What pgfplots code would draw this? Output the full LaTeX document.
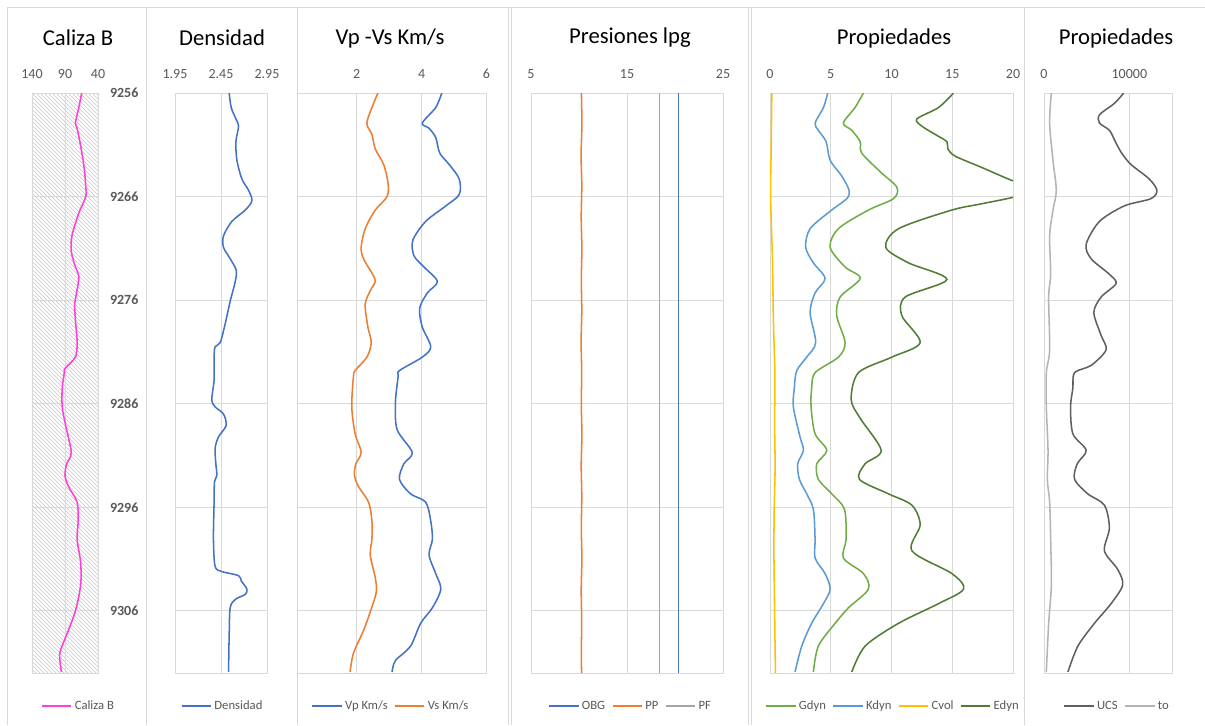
\documentclass[border=0pt]{standalone}
\usepackage{fontspec}
\setmainfont{Carlito}
\usepackage{pgfplots}
\pgfplotsset{compat=1.18}
\usepackage{pgfplotstable}
\usetikzlibrary{patterns}
\definecolor{gridc}{HTML}{D9D9D9}
\definecolor{tickc}{HTML}{595959}
\definecolor{cal}{HTML}{FF3FD8}
\definecolor{cblue}{HTML}{4472C4}
\definecolor{corange}{HTML}{ED7D31}
\definecolor{cgray}{HTML}{A5A5A5}
\definecolor{cgreen}{HTML}{70AD47}
\definecolor{clblue}{HTML}{5B9BD5}
\definecolor{cyellow}{HTML}{FFC000}
\definecolor{cdgreen}{HTML}{507C35}
\definecolor{cucs}{HTML}{606060}
\definecolor{cto}{HTML}{B4B4B4}

\pgfplotstableread[row sep=\\]{
d v\\
9256.0 64.7\\ 9257.4 69\\ 9258.9 74.2\\ 9259.4 71.6\\ 9261.1 66.3\\ 9263.2 61\\ 9265.1 58.4\\ 9266.0 58.4\\
9267.6 69\\ 9269.8 79.5\\ 9271.3 80.5\\ 9272.8 74.2\\ 9273.7 69\\ 9275.0 71.6\\ 9276.4 75.3\\ 9277.9 74.2\\
9280.1 71.6\\ 9281.5 74.2\\ 9282.6 90\\ 9283.0 91\\ 9284.5 94.2\\ 9286.3 94.2\\ 9288.1 89\\ 9290.7 80.5\\
9291.8 87.4\\ 9292.9 90\\ 9294.0 84.7\\ 9295.5 71.6\\ 9297.3 70\\ 9299.1 71.6\\ 9301.3 66.3\\ 9303.5 66.3\\
9306.0 74.2\\ 9308.3 87.4\\ 9310.1 97.9\\ 9311.9 95.3\\
}\tCal

\pgfplotstableread[row sep=\\]{
d v\\
9256.0 2.539\\ 9257.4 2.561\\ 9258.5 2.612\\ 9259.2 2.641\\ 9260.7 2.612\\ 9262.5 2.623\\ 9264.3 2.677\\
9265.4 2.75\\ 9266.4 2.786\\ 9267.3 2.714\\ 9268.4 2.568\\ 9269.8 2.477\\ 9270.9 2.477\\ 9272.0 2.55\\
9273.1 2.615\\ 9274.2 2.605\\ 9276.1 2.55\\ 9278.3 2.495\\ 9280.1 2.441\\ 9280.5 2.386\\ 9281.5 2.375\\
9283.7 2.375\\ 9285.6 2.35\\ 9286.3 2.386\\ 9287.0 2.477\\ 9288.1 2.506\\ 9289.2 2.423\\ 9290.3 2.386\\
9291.8 2.394\\ 9292.9 2.405\\ 9293.6 2.379\\ 9295.5 2.375\\ 9299.1 2.368\\ 9301.7 2.386\\ 9302.2 2.459\\
9302.6 2.641\\ 9303.1 2.67\\ 9303.9 2.732\\ 9304.4 2.714\\ 9304.9 2.605\\ 9305.7 2.55\\ 9308.3 2.539\\
9311.9 2.532\\
}\tDen

\pgfplotstableread[row sep=\\]{
d v\\
9256.0 4.622\\ 9257.4 4.435\\ 9258.9 4.021\\ 9259.4 4.228\\ 9260.3 4.435\\ 9261.8 4.56\\ 9262.9 4.85\\
9264.3 5.16\\ 9265.8 5.16\\ 9266.9 4.746\\ 9268.4 4.124\\ 9270.2 3.731\\ 9271.7 3.762\\ 9272.8 4.073\\
9274.2 4.487\\ 9275.3 4.176\\ 9276.8 3.938\\ 9278.6 4.021\\ 9280.5 4.28\\ 9281.5 4.021\\ 9282.8 3.316\\
9283.4 3.275\\ 9285.9 3.192\\ 9288.5 3.244\\ 9290.7 3.71\\ 9291.8 3.451\\ 9293.3 3.316\\ 9294.7 3.658\\
9295.5 4.124\\ 9297.3 4.28\\ 9299.1 4.332\\ 9300.6 4.228\\ 9302.4 4.435\\ 9303.9 4.591\\ 9305.7 4.332\\
9307.2 3.969\\ 9309.4 3.658\\ 9310.8 3.192\\ 9311.9 3.088\\
}\tVp

\pgfplotstableread[row sep=\\]{
d v\\
9256.0 2.653\\ 9257.0 2.518\\ 9258.9 2.311\\ 9260.0 2.466\\ 9261.4 2.57\\ 9262.9 2.829\\ 9264.7 2.964\\
9266.0 2.933\\ 9267.3 2.57\\ 9269.1 2.259\\ 9270.9 2.135\\ 9272.0 2.207\\ 9273.5 2.487\\ 9274.2 2.57\\
9275.1 2.415\\ 9276.4 2.259\\ 9278.6 2.342\\ 9280.1 2.446\\ 9281.5 2.311\\ 9282.8 1.948\\ 9283.4 1.896\\
9286.3 1.845\\ 9288.9 1.948\\ 9290.7 2.135\\ 9291.8 1.969\\ 9292.9 1.927\\ 9294.0 2.052\\ 9295.5 2.363\\
9297.3 2.466\\ 9299.1 2.466\\ 9300.6 2.415\\ 9302.8 2.57\\ 9304.2 2.6\\ 9306.1 2.415\\ 9307.9 2.207\\
9310.1 1.896\\ 9311.9 1.793\\
}\tVs

\pgfplotstableread[row sep=\\]{
d obg pp pf\\
9256 20.36 10.25 18.4\\ 9259 20.36 10.30 18.4\\ 9262 20.36 10.22 18.4\\ 9265 20.36 10.29 18.4\\
9268 20.36 10.23 18.4\\ 9271 20.36 10.30 18.4\\ 9274 20.36 10.24 18.4\\ 9277 20.36 10.29 18.4\\
9280 20.36 10.22 18.4\\ 9283 20.36 10.28 18.4\\ 9286 20.36 10.24 18.4\\ 9289 20.36 10.30 18.4\\
9292 20.36 10.23 18.4\\ 9295 20.36 10.29 18.4\\ 9298 20.36 10.24 18.4\\ 9301 20.36 10.30 18.4\\
9304 20.36 10.23 18.4\\ 9307 20.36 10.28 18.4\\ 9310 20.36 10.24 18.4\\ 9312 20.36 10.27 18.4\\
}\tPres

\pgfplotstableread[row sep=\\]{
d v\\
9256.0 7.69\\ 9257.4 7.0\\ 9258.9 6.04\\ 9259.6 6.73\\ 9260.7 7.42\\ 9261.8 7.55\\ 9263.6 9.07\\
9265.1 10.44\\ 9266.2 10.16\\ 9267.3 8.1\\ 9269.1 5.63\\ 9270.9 4.95\\ 9272.8 6.18\\ 9273.9 7.42\\
9275.7 5.77\\ 9277.5 5.49\\ 9280.1 6.18\\ 9281.5 5.63\\ 9283.0 3.71\\ 9284.5 3.43\\ 9286.3 3.38\\
9288.9 3.71\\ 9290.5 4.67\\ 9291.8 3.85\\ 9293.3 3.98\\ 9294.7 5.08\\ 9296.2 6.13\\ 9299.1 6.26\\
9300.9 6.04\\ 9302.4 7.69\\ 9303.9 8.1\\ 9305.7 6.46\\ 9307.2 5.36\\ 9309.4 3.98\\ 9311.9 3.57\\
}\tG

\pgfplotstableread[row sep=\\]{
d v\\
9256.0 4.75\\ 9257.4 4.4\\ 9258.9 3.71\\ 9259.6 3.98\\ 9260.7 4.62\\ 9262.5 4.95\\ 9264.0 5.9\\
9265.4 6.51\\ 9266.2 6.32\\ 9267.3 5.08\\ 9269.1 3.3\\ 9270.9 2.94\\ 9272.4 3.57\\ 9273.9 4.53\\
9275.3 3.71\\ 9277.2 3.3\\ 9280.1 3.76\\ 9281.5 3.02\\ 9282.8 2.2\\ 9284.5 2.0\\ 9286.3 1.92\\
9289.2 2.47\\ 9290.5 2.75\\ 9291.8 2.28\\ 9293.3 2.42\\ 9294.7 3.02\\ 9296.2 3.57\\ 9299.1 3.71\\
9300.9 3.71\\ 9302.4 4.53\\ 9303.9 4.95\\ 9305.3 4.4\\ 9307.2 3.43\\ 9309.4 2.61\\ 9311.9 2.06\\
}\tK

\pgfplotstableread[row sep=\\]{
d v\\
9256 0.15\\ 9261 0.10\\ 9266 0.05\\ 9272 0.20\\ 9278 0.28\\ 9283 0.40\\ 9288 0.38\\ 9292 0.42\\
9296 0.35\\ 9300 0.32\\ 9304 0.36\\ 9308 0.40\\ 9312 0.45\\
}\tC

\pgfplotstableread[row sep=\\]{
d v\\
9256.0 15.1\\ 9257.4 13.87\\ 9258.5 12.09\\ 9259.2 12.5\\ 9260.0 13.6\\ 9260.7 14.56\\ 9261.4 14.64\\
9262.1 15.25\\ 9263.2 17.45\\ 9264.3 19.6\\ 9265.2 21.5\\ 9266.0 20.2\\ 9266.7 17.4\\ 9267.3 14.97\\
9269.1 10.58\\ 9270.9 9.53\\ 9272.4 11.4\\ 9274.0 14.56\\ 9275.7 11.13\\ 9277.5 10.85\\ 9280.1 12.36\\
9281.5 10.03\\ 9283.0 7.28\\ 9285.6 6.68\\ 9287.4 7.42\\ 9290.5 9.15\\ 9291.8 7.83\\ 9293.3 7.36\\
9294.7 9.75\\ 9295.8 11.68\\ 9297.7 12.36\\ 9300.2 11.68\\ 9302.4 14.97\\ 9303.9 15.93\\ 9305.3 13.87\\
9307.2 10.58\\ 9309.4 7.83\\ 9311.9 6.73\\
}\tE

\pgfplotstableread[row sep=\\]{
d v\\
9256.0 9340\\ 9257.0 8250\\ 9258.1 6500\\ 9258.9 6500\\ 9259.6 7660\\ 9260.7 8360\\ 9261.8 9100\\
9262.9 10190\\ 9264.3 12330\\ 9265.4 13230\\ 9266.2 12530\\ 9266.9 9410\\ 9268.4 6500\\ 9270.6 4940\\
9272.0 5520\\ 9273.5 7660\\ 9274.4 8440\\ 9275.7 6690\\ 9277.2 5840\\ 9279.4 6690\\ 9280.8 7270\\
9282.3 5520\\ 9283.0 3580\\ 9284.5 3380\\ 9286.3 3110\\ 9288.9 3380\\ 9290.5 4940\\ 9291.8 3890\\
9293.3 3580\\ 9294.7 5130\\ 9295.8 7080\\ 9298.0 7660\\ 9300.2 7080\\ 9302.0 8640\\ 9303.5 9220\\
9305.3 7860\\ 9307.2 5910\\ 9309.4 3970\\ 9311.9 2800\\
}\tUCS

\pgfplotstableread[row sep=\\]{
d v\\
9256.0 860\\ 9258.9 660\\ 9262.5 1050\\ 9265.4 1440\\ 9267.3 1050\\ 9269.8 660\\ 9273.5 780\\
9275.7 545\\ 9280.8 660\\ 9283.0 270\\ 9286.3 270\\ 9290.5 470\\ 9293.3 390\\ 9295.5 660\\
9299.1 780\\ 9303.5 860\\ 9307.2 545\\ 9311.9 270\\
}\tTo

\pgfplotsset{
  welllog/.style={
    scale only axis, anchor=north west, height=435pt,
    y dir=reverse, ymin=9256, ymax=9312,
    ytick={9256,9266,9276,9286,9296,9306}, yticklabels={},
    grid=major, grid style={draw=gridc, line width=0.6pt},
    axis line style={draw=gridc, line width=0.6pt},
    xticklabel pos=upper,
    major tick length=0pt, tick style={draw=none},
    scaled ticks=false,
    xticklabel style={font=\fontsize{10.5}{12}\selectfont, text=tickc, yshift=7.5pt},
    /pgf/number format/assume math mode=true,
    legend columns=-1,
    legend style={draw=none, fill=none, font=\fontsize{9.5}{11}\selectfont, text=tickc, anchor=center,
      /tikz/every even column/.append style={column sep=3pt}},
    legend image code/.code={\draw[##1,line width=1.1pt] (0pt,0pt) -- (22pt,0pt);},
    every axis plot/.append style={line width=1.15pt, no marks},
  }
}

\begin{document}
\begin{tikzpicture}
\begin{scope}[x=0.75pt,y=-0.75pt]
\fill[white] (0,0) rectangle (1205,725);
\end{scope}

% Caliza B
\begin{axis}[welllog, at={(24pt,-69.75pt)}, width=49.5pt,
  x dir=reverse, xmin=40, xmax=140, xtick={40,90,140}, xticklabels={40,90,140},
  yticklabel pos=right, yticklabels={9256,9266,9276,9286,9296,9306},
  yticklabel style={font=\bfseries\fontsize{10.5}{12}\selectfont, text=tickc, xshift=5.5pt},
  axis background/.style={pattern=north west lines, pattern color=black!22},
  legend style={at={(0.712,-0.057)}}]
\addplot[cal, smooth] table[x=v,y=d] {\tCal};
\addlegendentry{Caliza B}
\end{axis}

% Densidad
\begin{axis}[welllog, at={(131.25pt,-69.75pt)}, width=69pt,
  xmin=1.95, xmax=2.95, xtick={1.95,2.45,2.95}, xticklabels={1.95,2.45,2.95},
  legend style={at={(0.522,-0.057)}}]
\addplot[cblue, smooth] table[x=v,y=d] {\tDen};
\addlegendentry{Densidad}
\end{axis}

% Vp Vs
\begin{axis}[welllog, at={(223.1pt,-69.75pt)}, width=141.75pt,
  xmin=0.17, xmax=6, xtick={2,4,6}, xticklabels={2,4,6},
  legend style={at={(0.497,-0.057)}}]
\addplot[cblue, smooth] table[x=v,y=d] {\tVp};
\addlegendentry{Vp Km/s}
\addplot[corange, smooth] table[x=v,y=d] {\tVs};
\addlegendentry{Vs Km/s}
\end{axis}

% Presiones
\begin{axis}[welllog, at={(398.25pt,-69.75pt)}, width=144pt,
  xmin=5, xmax=25, xtick={5,15,25}, xticklabels={5,15,25},
  legend style={at={(0.521,-0.057)}}]
\addplot[cblue] table[x=obg,y=d] {\tPres};
\addlegendentry{OBG}
\addplot[corange, smooth] table[x=pp,y=d] {\tPres};
\addlegendentry{PP}
\addplot[cgray] table[x=pf,y=d] {\tPres};
\addlegendentry{PF}
\end{axis}

% Propiedades
\begin{axis}[welllog, at={(577.5pt,-69.75pt)}, width=182.25pt,
  xmin=0, xmax=20, xtick={0,5,10,15,20}, xticklabels={0,5,10,15,20},
  legend style={at={(0.508,-0.057)}}]
\addplot[cgreen, smooth] table[x=v,y=d] {\tG};
\addlegendentry{Gdyn}
\addplot[clblue, smooth] table[x=v,y=d] {\tK};
\addlegendentry{Kdyn}
\addplot[cyellow, smooth] table[x=v,y=d] {\tC};
\addlegendentry{Cvol}
\addplot[cdgreen, smooth] table[x=v,y=d] {\tE};
\addlegendentry{Edyn}
\end{axis}

% Propiedades 2
\begin{axis}[welllog, at={(783pt,-69.75pt)}, width=96pt,
  xmin=0, xmax=15000, xtick={0,10000}, xticklabels={0,10000},
  legend style={at={(0.574,-0.057)}}]
\addplot[cucs, smooth] table[x=v,y=d] {\tUCS};
\addlegendentry{UCS}
\addplot[cto, smooth] table[x=v,y=d] {\tTo};
\addlegendentry{to}
\end{axis}

\begin{scope}[x=0.75pt,y=-0.75pt]
\draw[gridc, line width=0.75pt] (7,725) -- (7,7) -- (1205,7);
\foreach \xx in {146,297,508,511,748,751,1024}{\draw[gridc, line width=0.75pt] (\xx,7) -- (\xx,725);}
\begin{scope}[every node/.style={font=\fontsize{17}{20}\selectfont, text=black}]
\node at (78,38) {Caliza B};
\node at (222,38) {Densidad};
\node at (390,38) {Vp -Vs Km/s};
\node at (630,38) {Presiones lpg};
\node at (894,38) {Propiedades};
\node at (1116,38) {Propiedades};
\end{scope}
\pgfresetboundingbox
\path[use as bounding box] (0,0) rectangle (1205,725);
\end{scope}
\end{tikzpicture}
\end{document}
